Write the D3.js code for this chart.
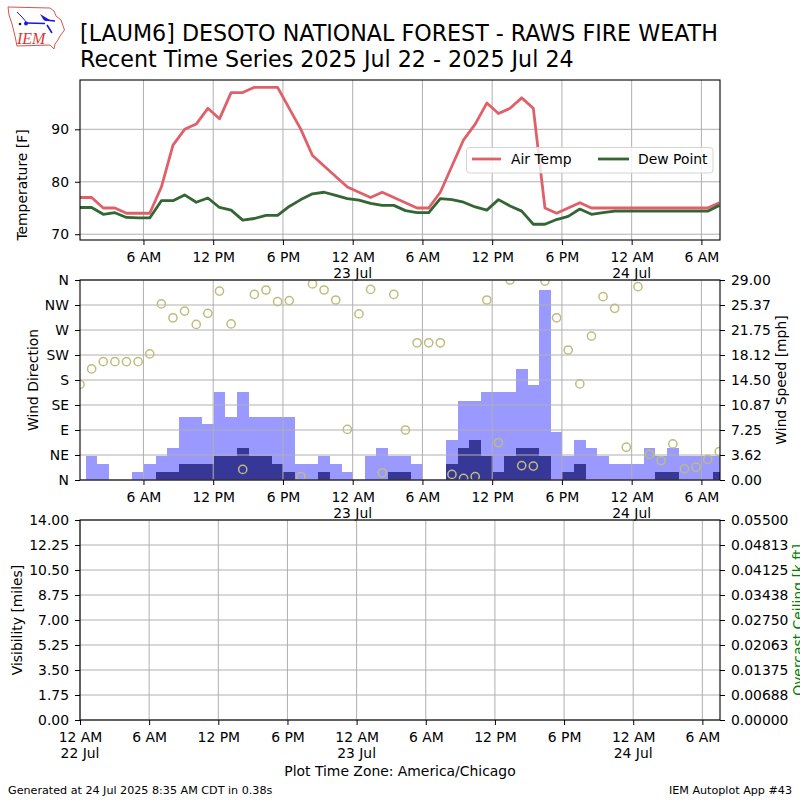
<!DOCTYPE html>
<html><head><meta charset="utf-8">
<script src="https://cdn.jsdelivr.net/npm/d3@7"></script>
<style>html,body{margin:0;padding:0;background:#fff}svg{display:block}text{font-family:"DejaVu Sans",sans-serif;fill:#000}</style>
</head><body><svg id="c" width="800" height="800" viewBox="0 0 800 800"></svg>
<script>
const airTemp=[77,77,75,75,74,74,74,79,87,90,91,94,92,97,97,98,98,98,94,90,85,83,81,79,78,77,78,77,76,75,75,78,83,88,91,95,93,94,96,94,75,74,75,76,75,75,75,75,75,75,75,75,75,75,75,76];
const dewPoint=[75.1,75.1,73.8,74.1,73.2,73.1,73.1,76.4,76.4,77.5,76.1,76.9,75.1,74.6,72.7,73,73.6,73.6,75.3,76.6,77.7,78,77.4,76.8,76.5,75.9,75.5,75.5,74.5,74.1,74.1,76.8,76.6,76.1,75.2,74.6,76.6,75.4,74.4,71.9,71.9,72.8,73.4,74.8,73.8,74.1,74.4,74.4,74.4,74.4,74.4,74.4,74.4,74.4,74.4,75.5];
const windGust=[0,3.5,2.3,0,0,1.15,2.3,3.5,4.6,9.2,9.2,8.1,12.7,9.2,12.7,9.2,9.2,9.2,9.2,2.3,2.3,3.5,2.3,1.15,0,3.5,4.6,3.5,3.5,2.3,0,0,5.8,11.5,11.5,12.7,12.7,12.7,16.1,13.8,27.5,7,3.5,5.8,4.6,3.5,2.3,2.3,2.3,4.6,3.5,4.6,3.5,3.5,3.5,3.5];
const windSpeed=[0,0,0,0,0,0,0,1.15,1.15,2.3,2.3,2.3,3.5,3.5,4.6,3.5,3.5,2.3,1.15,0,0,1.15,0,0,0,0,0,1.15,1.15,0,0,0,2.3,4.6,5.8,3.5,1.15,3.5,4.6,4.6,3.5,0,1.15,2.3,0,0,0,0,0,0,1.15,1.15,0,0,0,1.15];
const windDir=[172,200,213,213,213,213,227,317,292,304,280,300,340,281,19,334,342,321,323,6,353,342,324,91,299,343,13,334,90,247,247,247,10,3,6,324,67,360,26,25,358,292,234,173,259,330,309,59,348,46,35,65,20,23,37,51];
const dirLabels=["N","NE","E","SE","S","SW","W","NW","N"];
const dirTicks=[0,45,90,135,180,225,270,315,360];
const speedTicks=[0,3.625,7.25,10.875,14.5,18.125,21.75,25.375,29];
const speedLabels=["0.00","3.62","7.25","10.87","14.50","18.12","21.75","25.37","29.00"];
const visTicks=[0,1.75,3.5,5.25,7,8.75,10.5,12.25,14];
const visLabels=["0.00","1.75","3.50","5.25","7.00","8.75","10.50","12.25","14.00"];
const ceilTicks=[0,0.006875,0.01375,0.020625,0.0275,0.034375,0.04125,0.048125,0.055];
const ceilLabels=["0.00000","0.00688","0.01375","0.02063","0.02750","0.03438","0.04125","0.04813","0.05500"];
const tempTicks=[70,80,90];
const tickHours=[0,6,12,18,24,30,36,42,48,54];
const tickLabels=["12 AM","6 AM","12 PM","6 PM","12 AM","6 AM","12 PM","6 PM","12 AM","6 AM"];
const dayLabels={0:"22 Jul",24:"23 Jul",48:"24 Jul"};

const T0=Date.UTC(2025,6,22,0,0);
const at=h=>new Date(T0+h*3600000);
const obsTimes=airTemp.map((_,i)=>at(0.54+i));
const L=80,R=720,FS=13.9;
const grid="#b0b0b0";
const svg=d3.select("#c");
const xTop=d3.scaleTime().domain([at(0.54),at(55.6)]).range([L,R]);
const xBot=d3.scaleTime().domain([at(0),at(55.53)]).range([L,R]);
const yT=d3.scaleLinear().domain([68.9,99.4]).range([240,80]);
const yDir=d3.scaleLinear().domain([0,360]).range([480,280]);
const yS=d3.scaleLinear().domain([0,29]).range([480,280]);
const yV=d3.scaleLinear().domain([0,14]).range([720,520]);
const yC=d3.scaleLinear().domain([0,0.055]).range([720,520]);
const defs=svg.append("defs");
function clip(id,y,h){defs.append("clipPath").attr("id",id).append("rect").attr("x",L).attr("y",y).attr("width",R-L).attr("height",h);}
clip("c1",80,160);clip("c2",280,200);clip("c3",520,200);

function styleAxis(g){g.select(".domain").remove();g.selectAll(".tick line").attr("stroke","#000").attr("stroke-width",1);g.selectAll(".tick text").attr("font-size",FS).attr("font-family","DejaVu Sans").attr("fill","#000");}
function gridLines(x,y,xTicks,yTicks,top,bot){
  const g=svg.append("g").attr("stroke",grid).attr("stroke-width",1).attr("fill","none");
  g.selectAll(".v").data(xTicks).join("line").attr("x1",d=>x(at(d))).attr("x2",d=>x(at(d))).attr("y1",top).attr("y2",bot);
  g.selectAll(".h").data(yTicks).join("line").attr("x1",L).attr("x2",R).attr("y1",d=>y(d)).attr("y2",d=>y(d));
}
function xAxis(x,bot,hours){
  const g=svg.append("g").attr("transform",`translate(0,${bot})`).call(
    d3.axisBottom(x).tickValues(hours.map(at)).tickSize(5).tickPadding(6.8)
      .tickFormat(d=>tickLabels[tickHours.indexOf((d-T0)/3600000)]));
  styleAxis(g);
  hours.forEach(h=>{ if(dayLabels[h]) svg.append("text").attr("x",x(at(h))).attr("y",bot+38).attr("text-anchor","middle").attr("font-size",FS).text(dayLabels[h]);});
}
function leftAxis(y,vals,fmt){const g=svg.append("g").attr("transform",`translate(${L},0)`).call(d3.axisLeft(y).tickValues(vals).tickSize(5).tickPadding(6).tickFormat(fmt));styleAxis(g);}
function rightAxis(y,vals,fmt){const g=svg.append("g").attr("transform",`translate(${R},0)`).call(d3.axisRight(y).tickValues(vals).tickSize(5).tickPadding(6).tickFormat(fmt));styleAxis(g);}
function frame(top,bot){svg.append("rect").attr("x",L).attr("y",top).attr("width",R-L).attr("height",bot-top).attr("fill","none").attr("stroke","#000").attr("stroke-width",1.1);}
function ylabel(text,x,cy,color){svg.append("text").attr("transform",`translate(${x},${cy}) rotate(-90)`).attr("text-anchor","middle").attr("font-size",FS).style("fill",color||"#000").text(text);}

/* panel 1 */
const hoursTop=tickHours.slice(1);
gridLines(xTop,yT,hoursTop,tempTicks,80,240);
const line=d3.line().x((d,i)=>xTop(obsTimes[i])).y(d=>yT(d));
const p1=svg.append("g").attr("clip-path","url(#c1)").attr("fill","none").attr("stroke-width",2.8).attr("stroke-linejoin","round");
p1.append("path").attr("d",line(airTemp)).attr("stroke","#e0606a");
p1.append("path").attr("d",line(dewPoint)).attr("stroke","#336633");
frame(80,240);
xAxis(xTop,240,hoursTop);
leftAxis(yT,tempTicks,d=>d);
ylabel("Temperature [F]",27,185);
const lg=svg.append("g");
lg.append("rect").attr("x",466.5).attr("y",147.5).attr("width",246.5).attr("height",25.5).attr("rx",3).attr("fill","#fff").attr("fill-opacity",0.8).attr("stroke","#d4d4d4");
lg.append("line").attr("x1",472).attr("x2",501).attr("y1",159).attr("y2",159).attr("stroke","#e0606a").attr("stroke-width",2.8);
lg.append("text").attr("x",511).attr("y",164).attr("font-size",FS).text("Air Temp");
lg.append("line").attr("x1",598).attr("x2",629).attr("y1",159).attr("y2",159).attr("stroke","#336633").attr("stroke-width",2.8);
lg.append("text").attr("x",638).attr("y",164).attr("font-size",FS).text("Dew Point");

/* panel 2 */
const p2=svg.append("g").attr("clip-path","url(#c2)");
const bar=(vals,color)=>p2.append("g").attr("fill",color).attr("shape-rendering","crispEdges").selectAll("rect").data(vals).join("rect")
  .attr("x",(d,i)=>xTop(new Date(+obsTimes[i]-1800000))).attr("width",(d,i)=>xTop(new Date(+obsTimes[i]+1800000))-xTop(new Date(+obsTimes[i]-1800000)))
  .attr("y",d=>yS(d)).attr("height",d=>480-yS(d));
bar(windGust,"#9999ff");
bar(windSpeed,"#373797");
gridLines(xTop,yDir,hoursTop,dirTicks,280,480);
svg.append("g").attr("clip-path","url(#c2)").selectAll("circle").data(windDir).join("circle")
  .attr("cx",(d,i)=>xTop(obsTimes[i])).attr("cy",d=>yDir(d)).attr("r",4.1).attr("fill","none").attr("stroke","#bdbd7d").attr("stroke-width",1.5);
frame(280,480);
xAxis(xTop,480,hoursTop);
leftAxis(yDir,dirTicks,(d,i)=>dirLabels[i]);
rightAxis(yS,speedTicks,(d,i)=>speedLabels[i]);
ylabel("Wind Direction",38,380);
ylabel("Wind Speed [mph]",786,380);

/* panel 3 */
gridLines(xBot,yV,tickHours,visTicks,520,720);
frame(520,720);
xAxis(xBot,720,tickHours);
leftAxis(yV,visTicks,(d,i)=>visLabels[i]);
rightAxis(yC,ceilTicks,(d,i)=>ceilLabels[i]);
ylabel("Visibility [miles]",22,620);
ylabel("Overcast Ceiling [k ft]",803,620,"#008000");
svg.append("text").attr("x",400).attr("y",776).attr("text-anchor","middle").attr("font-size",FS).text("Plot Time Zone: America/Chicago");

/* titles and footer */
svg.append("text").attr("x",80).attr("y",41).attr("font-size",22.2).text("[LAUM6] DESOTO NATIONAL FOREST - RAWS FIRE WEATH");
svg.append("text").attr("x",80).attr("y",67).attr("font-size",22.2).text("Recent Time Series 2025 Jul 22 - 2025 Jul 24");
svg.append("text").attr("x",8).attr("y",794).attr("font-size",11.15).text("Generated at 24 Jul 2025 8:35 AM CDT in 0.38s");
svg.append("text").attr("x",792).attr("y",794).attr("text-anchor","end").attr("font-size",11.15).text("IEM Autoplot App #43");

/* logo */
const logo=svg.append("g");
logo.append("path").attr("d","M8,7 L50,8 L54,11 L56,16 L61,20 L64.5,30 L60,36 L58,40 L55,44 L54,49 L50,45 L17,46 L15,36 L12,24 L9,15 Z").attr("fill","#fff").attr("stroke","#d9534f").attr("stroke-width",1);
logo.append("path").attr("d","M17,12 L22,17 L27,23").attr("fill","none").attr("stroke","#1a1ad6").attr("stroke-width",1);
logo.append("path").attr("d","M27,23 L45,23.5 M45,20 L55,21 M47,25 L52,33").attr("fill","none").attr("stroke","#1a1ad6").attr("stroke-width",1.6);
logo.append("path").attr("d","M40,14 L50,20 L44,20.5 Z").attr("fill","#1a1ad6");
logo.append("circle").attr("cx",26).attr("cy",23.5).attr("r",2).attr("fill","#1a1ad6");
logo.append("circle").attr("cx",20).attr("cy",24).attr("r",1.3).attr("fill","#223");
logo.append("text").attr("x",17).attr("y",43.5).attr("font-size",16).attr("font-style","italic").style("font-family","'Liberation Serif',serif").style("fill","#d9363a").text("IEM");
</script></body></html>
